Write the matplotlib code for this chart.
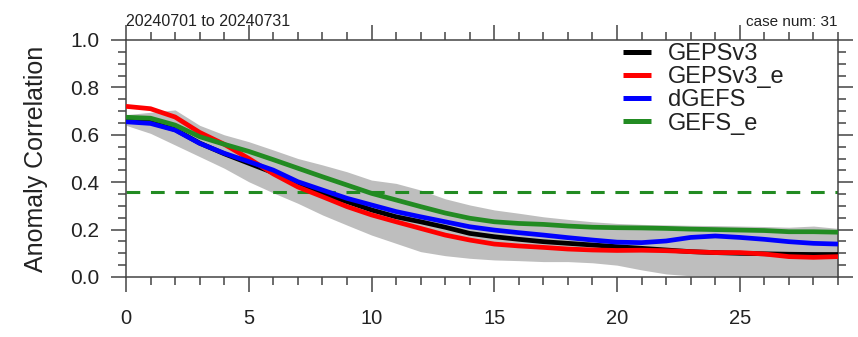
import matplotlib
matplotlib.use("Agg")
import matplotlib.pyplot as plt
from matplotlib.ticker import MultipleLocator

plt.rcParams['font.family'] = ['Liberation Sans', 'DejaVu Sans']

days = list(range(30))

gepsv3 = [0.660, 0.652, 0.622, 0.565, 0.520, 0.480, 0.440, 0.390, 0.353, 0.318,
          0.283, 0.254, 0.233, 0.210, 0.184, 0.170, 0.159, 0.149, 0.142, 0.135,
          0.128, 0.121, 0.114, 0.107, 0.103, 0.100, 0.098, 0.096, 0.095, 0.095]
gepsv3_e = [0.720, 0.710, 0.675, 0.610, 0.560, 0.500, 0.435, 0.380, 0.339, 0.297,
            0.262, 0.233, 0.205, 0.177, 0.156, 0.139, 0.131, 0.125, 0.118, 0.114,
            0.112, 0.113, 0.111, 0.107, 0.103, 0.103, 0.097, 0.086, 0.083, 0.086]
dgefs = [0.655, 0.648, 0.620, 0.564, 0.522, 0.487, 0.451, 0.402, 0.367, 0.332,
         0.304, 0.276, 0.254, 0.233, 0.212, 0.198, 0.187, 0.177, 0.166, 0.156,
         0.147, 0.145, 0.152, 0.167, 0.173, 0.167, 0.159, 0.149, 0.142, 0.139]
gefs_e = [0.674, 0.670, 0.641, 0.592, 0.560, 0.530, 0.495, 0.459, 0.423, 0.388,
          0.353, 0.325, 0.297, 0.270, 0.248, 0.233, 0.226, 0.222, 0.215, 0.210,
          0.208, 0.207, 0.205, 0.202, 0.200, 0.198, 0.196, 0.191, 0.191, 0.189]
spread_upper = [0.685, 0.695, 0.705, 0.640, 0.600, 0.571, 0.536, 0.500, 0.473, 0.444,
                0.409, 0.395, 0.367, 0.330, 0.304, 0.283, 0.269, 0.254, 0.243, 0.233,
                0.226, 0.222, 0.220, 0.218, 0.217, 0.215, 0.213, 0.210, 0.215, 0.205]
spread_lower = [0.640, 0.606, 0.557, 0.508, 0.459, 0.402, 0.355, 0.311, 0.262, 0.219,
                0.177, 0.142, 0.107, 0.090, 0.079, 0.072, 0.069, 0.065, 0.065, 0.060,
                0.050, 0.030, 0.013, 0.005, 0.003, 0.002, 0.002, 0.002, 0.002, 0.002]
threshold = 0.357

series_names = ['GEPSv3', 'GEPSv3_e', 'dGEFS', 'GEFS_e']
series_colors = ['black', '#ff0000', '#0000ff', '#228b22']
series_values = [gepsv3, gepsv3_e, dgefs, gefs_e]

title_left = '20240701 to 20240731'
title_right = 'case num: 31'
ylabel = 'Anomaly Correlation'

fig = plt.figure(figsize=(8.58, 3.37), dpi=100)
ax = fig.add_axes([126/858, 60/337, 712/858, 237/337])

ax.fill_between(days, spread_lower, spread_upper, color='#bebebe', lw=0, zorder=1)
ax.axhline(threshold, color='#228b22', lw=2.2, ls=(0, (4.5, 3.5)), zorder=2)

lines = []
for name, col, vals in zip(series_names, series_colors, series_values):
    ln, = ax.plot(days, vals, color=col, lw=3.4, label=name, zorder=3,
                  solid_capstyle='butt', solid_joinstyle='round')
    lines.append(ln)

ax.set_xlim(0, 29)
ax.set_ylim(0, 1.0)
ax.xaxis.set_major_locator(MultipleLocator(5))
ax.xaxis.set_minor_locator(MultipleLocator(1))
ax.yaxis.set_major_locator(MultipleLocator(0.2))
ax.yaxis.set_minor_locator(MultipleLocator(0.05))
ax.yaxis.set_major_formatter(matplotlib.ticker.FormatStrFormatter('%.1f'))

frame_col = '#444444'
for s in ax.spines.values():
    s.set_color(frame_col)
    s.set_linewidth(1.1)

ax.tick_params(which='both', direction='out', top=True, right=True,
               color=frame_col, width=1.1)
ax.tick_params(axis='x', which='major', length=11, pad=12, labelsize=14.5, labelcolor='#222222')
ax.tick_params(axis='x', which='minor', length=5.5)
ax.tick_params(axis='y', which='major', length=11, pad=8, labelsize=15, labelcolor='#222222')
ax.tick_params(axis='y', which='minor', length=6)

ax.set_ylabel(ylabel, fontsize=18, color='#222222', labelpad=16)

ax.text(0.0, 1.045, title_left, transform=ax.transAxes, fontsize=11.5,
        ha='left', va='bottom', color='#222222')
ax.text(1.0, 1.045, title_right, transform=ax.transAxes, fontsize=11,
        ha='right', va='bottom', color='#222222')

leg = ax.legend(handles=lines, loc='upper left', bbox_to_anchor=(0.675, 1.057),
                frameon=False, fontsize=17, handlelength=1.2, handletextpad=0.7,
                labelspacing=0.05, borderpad=0.2)
for lh in leg.get_lines():
    lh.set_linewidth(3.6)
for t in leg.get_texts():
    t.set_color('#222222')

fig.savefig('out.png', dpi=100)
